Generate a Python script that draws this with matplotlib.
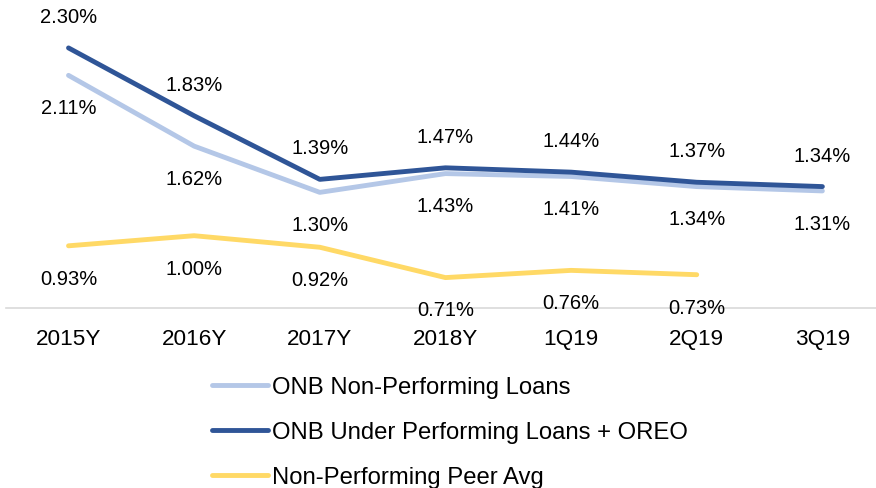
import matplotlib.pyplot as plt

plt.rcParams['font.family'] = ['Liberation Sans', 'DejaVu Sans']

periods = ['2015Y', '2016Y', '2017Y', '2018Y', '1Q19', '2Q19', '3Q19']
onb_npl = [2.11, 1.62, 1.30, 1.43, 1.41, 1.34, 1.31]
onb_upl_oreo = [2.30, 1.83, 1.39, 1.47, 1.44, 1.37, 1.34]
peer_avg = [0.93, 1.00, 0.92, 0.71, 0.76, 0.73]

fig = plt.figure(figsize=(8.76, 4.88), dpi=100)
ax = fig.add_axes([0.0065, 0.369, 1.004, 0.592])

x = list(range(len(periods)))
series = [
    ('ONB Non-Performing Loans', onb_npl, '#B4C7E7', -24),
    ('ONB Under Performing Loans + OREO', onb_upl_oreo, '#2F5597', 22),
    ('Non-Performing Peer Avg', peer_avg, '#FFD966', -24),
]
for name, vals, color, off in series:
    xs = x[:len(vals)]
    ax.plot(xs, vals, color=color, lw=3.5, solid_capstyle='round', label=name)
    for xi, v in zip(xs, vals):
        ax.annotate(f"{v:.2f}%", (xi, v), textcoords='offset points', xytext=(0, off),
                    ha='center', va='center', fontsize=14.5)

ax.set_xlim(-0.5, len(periods) - 0.5)
ax.set_ylim(0.5, 2.5)
ax.set_xticks(x)
ax.set_xticklabels(periods, fontsize=16.2)
ax.set_yticks([])
ax.tick_params(axis='x', length=0, pad=15)
for s in ['top', 'left', 'right']:
    ax.spines[s].set_visible(False)
ax.spines['bottom'].set_color('#D9D9D9')
ax.spines['bottom'].set_linewidth(1.2)
ax.patch.set_visible(False)

handles, labels = ax.get_legend_handles_labels()
fig.legend(handles, labels, loc='upper left', bbox_to_anchor=(0.242, 0.228),
           frameon=False, fontsize=17.2, handlelength=2.35, handletextpad=0.16,
           labelspacing=0.96, borderpad=0, borderaxespad=0)

fig.savefig('out.png', dpi=100)
